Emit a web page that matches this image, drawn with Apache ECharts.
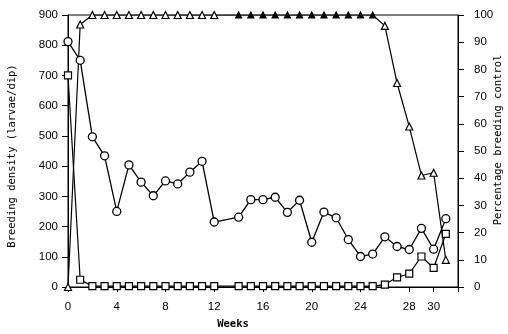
<!DOCTYPE html>
<html>
<head>
<meta charset="utf-8">
<script src="https://cdn.jsdelivr.net/npm/echarts@6/dist/echarts.min.js"></script>
<style>html,body{margin:0;padding:0;background:#fff;}#c{width:508px;height:334px;}</style>
</head>
<body>
<div id="c"></div>
<script>
// Weeks (no observation at week 13)
var weeks = [0,1,2,3,4,5,6,7,8,9,10,11,12,14,15,16,17,18,19,20,21,22,23,24,25,26,27,28,29,30,31];
// Breeding density (larvae/dip) - circles
var densityCircles = [812,750,497,434,250,404,347,302,351,341,380,416,215,231,289,289,297,247,287,148,248,229,157,101,109,166,134,124,194,125,226];
// Breeding density (larvae/dip) - squares
var densitySquares = [700,24,3,3,3,3,3,3,3,3,3,3,3,3,3,3,3,3,3,3,3,3,3,3,3,8,32,44,101,63,176];
// Percentage breeding control - triangles
var controlPct = [0,96.5,100,100,100,100,100,100,100,100,100,100,100,100,100,100,100,100,100,100,100,100,100,100,100,96,75,59,41,42,10];
// Axis ticks
var xLabelValues = [0,4,8,12,16,20,24,28,30];
var xTickValues = [0,4,8,12,16,20,24,28,30,32];

function pairs(ys){ return weeks.map(function(w,i){ return [w, ys[i]]; }); }
function filledWeek(w){ return w>=14 && w<=25; }

var chart = echarts.init(document.getElementById('c'));
var lblFont = {color:'#000', fontFamily:'Liberation Sans, Arial, sans-serif', fontSize:11.5};
var nameFont = {color:'#000', fontFamily:'DejaVu Sans Mono, monospace', fontSize:10.5};
chart.setOption({
  animation:false,
  backgroundColor:'#fff',
  grid:{left:68, right:50, top:15, bottom:47, containLabel:false, outerBoundsMode:'none', show:true, borderColor:'#000', borderWidth:1, backgroundColor:'transparent'},
  xAxis:{
    type:'value', min:0, max:32,
    axisLine:{lineStyle:{color:'#000', width:1}},
    axisTick:{customValues:xTickValues, inside:false, length:5, lineStyle:{color:'#000'}},
    axisLabel:Object.assign({customValues:xLabelValues, margin:14}, lblFont),
    splitLine:{show:false},
    name:'Weeks', nameLocation:'middle', nameGap:32,
    nameTextStyle:Object.assign({padding:[0,60,0,0]}, nameFont, {fontWeight:'bold'})
  },
  yAxis:[{
    type:'value', min:0, max:900, interval:100, position:'left',
    axisLine:{show:true, lineStyle:{color:'#000', width:1}},
    axisTick:{show:true, length:6, lineStyle:{color:'#000'}},
    axisLabel:Object.assign({margin:10}, lblFont),
    splitLine:{show:false},
    name:'Breeding density (larvae/dip)', nameLocation:'middle', nameGap:50, nameRotate:90,
    nameTextStyle:Object.assign({padding:[0,10,0,0]}, nameFont)
  },{
    type:'value', min:0, max:100, interval:10, position:'right',
    axisLine:{show:true, lineStyle:{color:'#000', width:1}},
    axisTick:{show:true, length:6, lineStyle:{color:'#000'}},
    axisLabel:Object.assign({margin:16}, lblFont),
    splitLine:{show:false},
    name:'Percentage breeding control', nameLocation:'middle', nameGap:35, nameRotate:90,
    nameMoveOverlap:false,
    nameTextStyle:Object.assign({padding:[0,0,0,22]}, nameFont)
  }],
  series:[{
    type:'line', yAxisIndex:1, data:pairs(controlPct),
    symbol:'triangle', showAllSymbol:true,
    symbolSize:function(v){ return filledWeek(v[0]) ? 6 : 7; },
    lineStyle:{color:'#000', width:1.2},
    itemStyle:{borderColor:'#000', borderWidth:1.2, color:function(p){ return filledWeek(p.value[0]) ? '#000' : '#fff'; }},
    z:3
  },{
    type:'line', yAxisIndex:0, data:pairs(densitySquares),
    symbol:'rect', symbolSize:7, showAllSymbol:true,
    lineStyle:{color:'#000', width:1.2},
    itemStyle:{color:'#fff', borderColor:'#000', borderWidth:1.2},
    z:4
  },{
    type:'line', yAxisIndex:0, data:pairs(densityCircles),
    symbol:'circle', symbolSize:8, showAllSymbol:true,
    lineStyle:{color:'#000', width:1.3},
    itemStyle:{color:'#fff', borderColor:'#000', borderWidth:1.3},
    z:5
  }]
});
</script>
</body>
</html>
